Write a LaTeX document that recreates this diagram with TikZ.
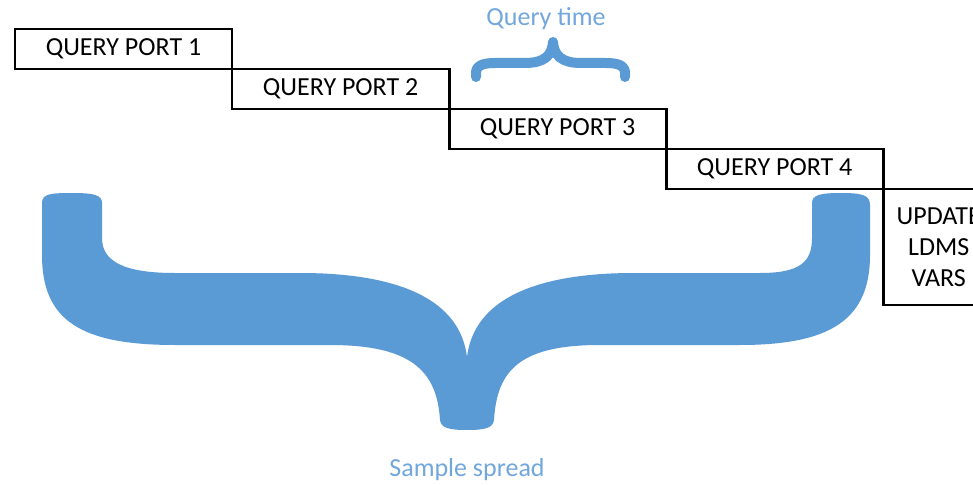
\documentclass[tikz,border=0pt]{standalone}
\usepackage{fontspec}
\setmainfont{Carlito}
\usetikzlibrary{positioning}
\definecolor{bracblue}{HTML}{5B9BD5}
\definecolor{labblue}{HTML}{72A7DE}
\begin{document}
\begin{tikzpicture}[
  x=0.025cm, y=-0.025cm,
  font=\fontsize{18.5}{22}\selectfont,
  port/.style={draw=black, line width=2pt, fill=white, minimum width=5.425cm,
               minimum height=1cm, inner sep=0pt, outer sep=0pt},
  updbox/.style={port, minimum width=2.775cm, minimum height=2.9cm, align=center},
  lab/.style={text=labblue, inner sep=0pt},
  brac/.style={fill=bracblue, draw=none},
]
\clip (0,0) rectangle (973,485);
\fill[white] (0,0) rectangle (973,485);
% staircase of query ports
\node[port, anchor=north west] (q1) at (15,29) {QUERY PORT 1};
\node[port, below right=0pt and 0pt of q1] (q2) {QUERY PORT 2};
\node[port, below right=0pt and 0pt of q2] (q3) {QUERY PORT 3};
\node[port, below right=0pt and 0pt of q3] (q4) {QUERY PORT 4};
\node[updbox, below right=0pt and 0pt of q4] (upd) {UPDATE\\LDMS\\VARS};
% small brace over port 3
\draw[bracblue, line width=0.25cm, line cap=round, line join=round]
  (476,77) -- (476,73) .. controls (476,66) and (482,63) .. (495,63) -- (525,63)
  .. controls (545,63) and (552,55) .. (553,42)
  .. controls (554,55) and (561,63) .. (581,63) -- (606,63)
  .. controls (619,63) and (625,66) .. (625,73) -- (625,77);
\node[lab] (qtime) at (546,19) {Query time};
% big brace under ports
\fill[brac] (42,203) .. controls (42,194) and (50,193) .. (72,193)
  .. controls (94,193) and (102,195) .. (102,203) -- (102,238)
  .. controls (102,262) and (125,273) .. (175,273) -- (300,273)
  .. controls (400,273) and (460,300) .. (467,357)
  .. controls (474,300) and (534,273) .. (634,273) -- (760,273)
  .. controls (800,273) and (812,262) .. (812,238) -- (812,203)
  .. controls (812,195) and (820,193) .. (841,193)
  .. controls (862,193) and (870,195) .. (870,205) -- (870,255)
  .. controls (870,320) and (830,345) .. (740,345) -- (600,345)
  .. controls (520,345) and (497,370) .. (494,420)
  .. controls (493,428) and (485,430) .. (467,430)
  .. controls (449,430) and (441,428) .. (440,420)
  .. controls (437,370) and (410,345) .. (330,345) -- (175,345)
  .. controls (80,345) and (42,320) .. (42,255) -- cycle;
\node[lab] (spread) at (467,470) {Sample spread};
\end{tikzpicture}
\end{document}
